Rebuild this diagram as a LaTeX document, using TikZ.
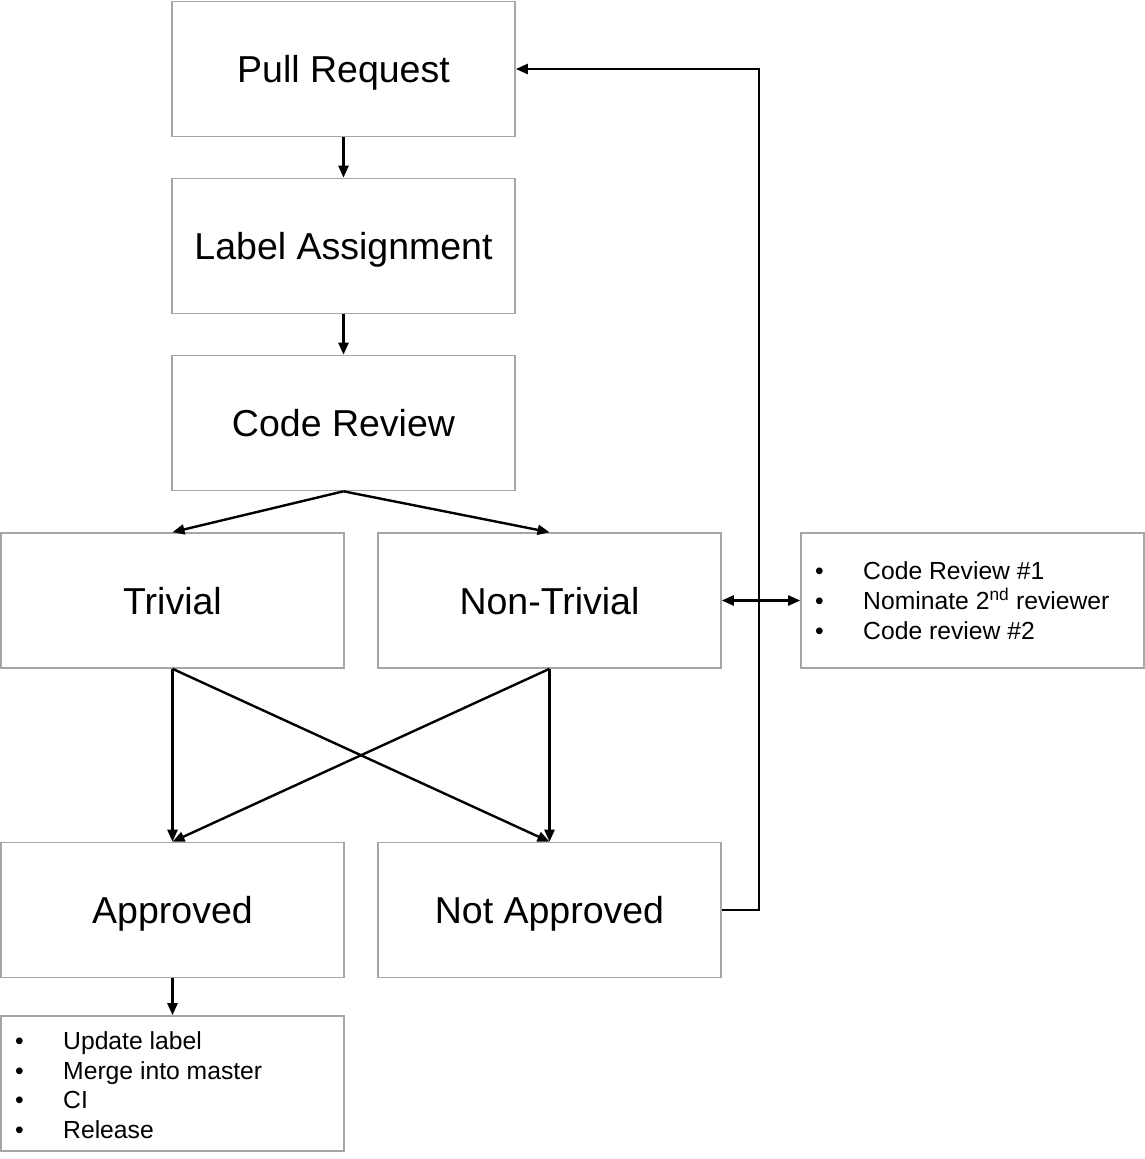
\documentclass[tikz,border=0pt]{standalone}
\usepackage{fontspec}
\setmainfont{Liberation Sans}
\usetikzlibrary{arrows.meta}

\definecolor{boxgray}{RGB}{166,166,166}

\tikzset{
  stepbox/.style={draw=boxgray, line width=1.6pt, minimum width=343pt, minimum height=135pt, inner sep=0pt, text height=27pt, text depth=0pt, font=\fontsize{37.5}{45}\selectfont},
  listtext/.style={anchor=west, inner sep=0pt, align=left, font=\fontsize{24.7}{29.6}\selectfont},
  conn/.style={line width=2.4pt, -{Triangle[length=12pt,width=10pt]}},
}

\begin{document}
\begin{tikzpicture}[x=1pt,y=-1pt]
\useasboundingbox (0,0) rectangle (1145,1159);

%Flowchart: Process boxes
\node (pr) at (343.5,69) [stepbox] {Pull Request};
\node (label) at (343.5,246) [stepbox] {Label Assignment};
\node (review) at (343.5,423) [stepbox] {Code Review};
\node (trivial) at (172.5,600.5) [stepbox] {Trivial};
\node (nontrivial) at (549.5,600.5) [stepbox] {Non-Trivial};
\node (approved) at (172.5,910) [stepbox] {Approved};
\node (notapproved) at (549.5,910) [stepbox] {Not Approved};
\node (reviewbox) at (972.5,600.5) [stepbox] {};
\node (mergebox) at (172.5,1083.5) [stepbox] {};

% Text Node
\node (reviewlist) at (815,603.5) [listtext] {%
\begin{tabular}{@{}p{48pt}@{}l@{}}
\textbullet & Code Review \#1\\
\textbullet & Nominate 2\textsuperscript{nd} reviewer\\
\textbullet & Code review \#2
\end{tabular}};
% Text Node
\node (mergelist) at (15,1088) [listtext] {%
\begin{tabular}{@{}p{48pt}@{}l@{}}
\textbullet & Update label\\
\textbullet & Merge into master\\
\textbullet & CI\\
\textbullet & Release
\end{tabular}};

%Straight Lines
\coordinate (backbot) at (759,910);
\coordinate (backtop) at (759,69);
\draw [conn] (pr.south) -- (label.north);
\draw [conn] (label.south) -- (review.north);
\draw [conn] (review.south) -- (trivial.north);
\draw [conn] (review.south) -- (nontrivial.north);
\draw [conn] (trivial.south) -- (approved.north);
\draw [conn] (trivial.south) -- (notapproved.north);
\draw [conn] (nontrivial.south) -- (notapproved.north);
\draw [conn] (nontrivial.south) -- (approved.north);
\draw [conn] (approved.south) -- (mergebox.north);
\draw [conn] (notapproved.east) -- (backbot) -- (backtop) -- (pr.east);
\draw [conn, {Triangle[length=12pt,width=10pt]}-{Triangle[length=12pt,width=10pt]}] (nontrivial.east) -- (reviewbox.west);

\end{tikzpicture}
\end{document}
